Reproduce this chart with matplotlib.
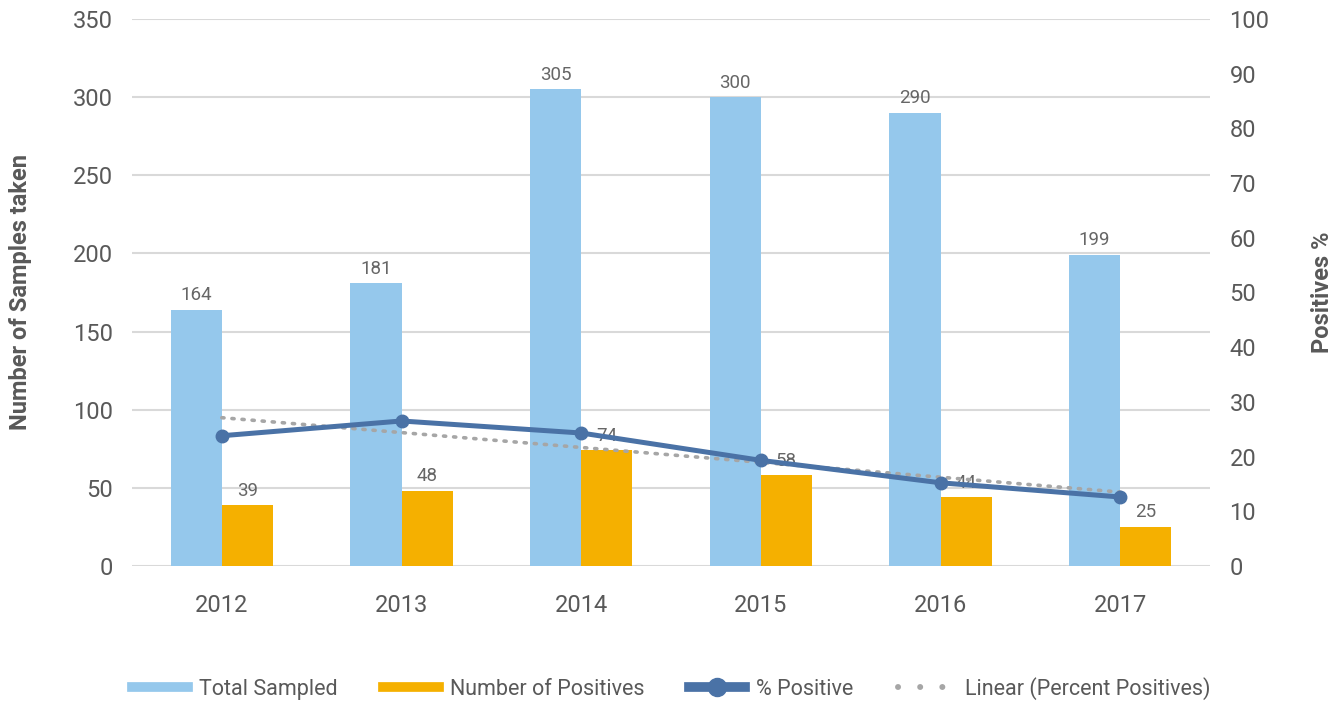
import matplotlib.pyplot as plt
from matplotlib.lines import Line2D
import numpy as np

plt.rcParams['font.family'] = ['Roboto', 'DejaVu Sans']

# data
years = ['2012', '2013', '2014', '2015', '2016', '2017']
total_sampled = [164, 181, 305, 300, 290, 199]
num_positives = [39, 48, 74, 58, 44, 25]
pct_positive = [23.8, 26.5, 24.3, 19.3, 15.2, 12.6]
trend_ends = [27.1, 13.5]  # linear trendline at 2012 and 2017

c_blue = '#95C8EC'
c_orange = '#F5B000'
c_line = '#4A72A6'
c_trend = '#A6A6A6'
c_text = '#595959'
c_grid = '#D9D9D9'

fig = plt.figure(figsize=(13.43, 7.03), dpi=100)
ax = fig.add_axes([0.0983, 0.195, 0.8027, 0.778])
ax2 = ax.twinx()

x = np.arange(len(years))
w = 0.285

ax.bar(x - w / 2, total_sampled, w, color=c_blue, zorder=2)
ax.bar(x + w / 2, num_positives, w, color=c_orange, zorder=2)
for xi, v in zip(x, total_sampled):
    ax.text(xi - w / 2, v + 3.5, str(v), ha='center', va='bottom', fontsize=13.5, color='#666666', zorder=3)
for xi, v in zip(x, num_positives):
    ax.text(xi + w / 2, v + 3.5, str(v), ha='center', va='bottom', fontsize=13.5, color='#666666', zorder=3)

ax.set_xlim(-0.5, len(years) - 0.5)
ax.set_ylim(0, 350)
ax.set_yticks(range(0, 351, 50))
ax.set_xticks(x)
ax.set_xticklabels(years)
ax.grid(axis='y', color=c_grid, linewidth=1.5, zorder=0)
ax.set_axisbelow(True)
for s in ax.spines.values():
    s.set_visible(False)
for s in ax2.spines.values():
    s.set_visible(False)
ax.tick_params(axis='both', length=0, labelsize=17, labelcolor=c_text)
ax.tick_params(axis='y', pad=14)
ax.tick_params(axis='x', pad=20)
ax.set_ylabel('Number of Samples taken', fontsize=17, fontweight='bold', color=c_text, labelpad=29)

ax2.plot([x[0], x[-1]], trend_ends, linestyle=(0, (0.6, 2.2)), color=c_trend,
         linewidth=2.6, dash_capstyle='round', zorder=3)
ax2.plot(x, pct_positive, color=c_line, linewidth=3.6, marker='o', markersize=9, zorder=4)
ax2.set_ylim(0, 100)
ax2.set_yticks(range(0, 101, 10))
ax2.tick_params(axis='y', length=0, labelsize=17, labelcolor=c_text, pad=14)
ax2.set_ylabel('Positives %', fontsize=17, fontweight='bold', color=c_text, labelpad=30)

handles = [
    Line2D([0], [0], color=c_blue, linewidth=7),
    Line2D([0], [0], color=c_orange, linewidth=7),
    Line2D([0], [0], color=c_line, linewidth=7, marker='o', markersize=13),
    Line2D([0], [0], color=c_trend, linewidth=4.3, linestyle=(0, (0.01, 3.7)), dash_capstyle='round'),
]
labels = ['Total Sampled', 'Number of Positives', '% Positive', 'Linear (Percent Positives)']
fig.legend(handles, labels, loc='center', bbox_to_anchor=(0.5, 0.021), ncol=4, frameon=False,
           fontsize=15.5, labelcolor=c_text, handlelength=2.6, handletextpad=0.5, columnspacing=2.1)

fig.savefig('out.png', dpi=100)
